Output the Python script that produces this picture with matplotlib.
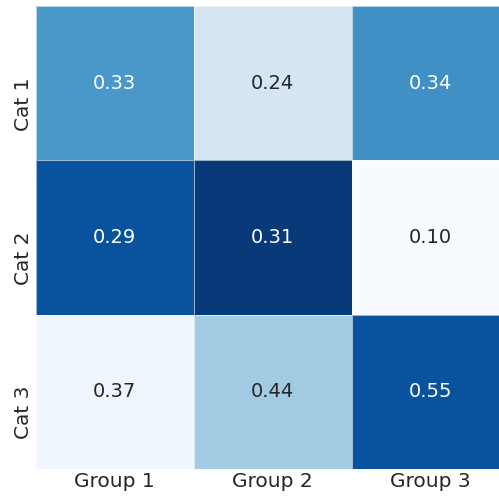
import matplotlib
matplotlib.use("Agg")
import matplotlib.pyplot as plt
import matplotlib.transforms as mtransforms
import numpy as np
import seaborn as sns

groups = ["Group 1", "Group 2", "Group 3"]
cats = ["Cat 1", "Cat 2", "Cat 3"]

# shares printed in each cell
shares = [
    [0.33, 0.24, 0.34],
    [0.29, 0.31, 0.10],
    [0.37, 0.44, 0.55],
]

# intensity used for the cell shading
intensity = [
    [0.60, 0.17, 0.63],
    [0.87, 0.96, 0.00],
    [0.05, 0.37, 0.87],
]

sns.set_theme(style="white")
plt.rcParams["font.family"] = ["DejaVu Sans"]

fig = plt.figure(figsize=(4.99, 4.98), dpi=100)
ax = fig.add_axes([35.7 / 499, 29.0 / 498, 474.0 / 499, 463.0 / 498])

labels = np.array([[f"{v:.2f}" for v in row] for row in shares])
sns.heatmap(
    np.array(intensity), ax=ax, cmap="Blues", vmin=0, vmax=1,
    annot=labels, fmt="", cbar=False, linewidths=0.4,
    linecolor=(1, 1, 1, 0.6),
    annot_kws={"fontsize": 14},
    xticklabels=groups, yticklabels=cats,
)
ax.tick_params(axis="x", length=0, labelsize=14.5, colors="#262626", pad=2)
ax.tick_params(axis="y", length=0, labelsize=14.5, colors="#262626", pad=2)
ax.set_xticklabels(groups, rotation=0)
ax.set_yticklabels(cats, rotation=90, va="top")

# nudge the category labels slightly upward
shift = mtransforms.ScaledTranslation(0, 6 / 100, fig.dpi_scale_trans)
for lab in ax.get_yticklabels():
    lab.set_transform(lab.get_transform() + shift)

fig.savefig("out.png", dpi=100)
